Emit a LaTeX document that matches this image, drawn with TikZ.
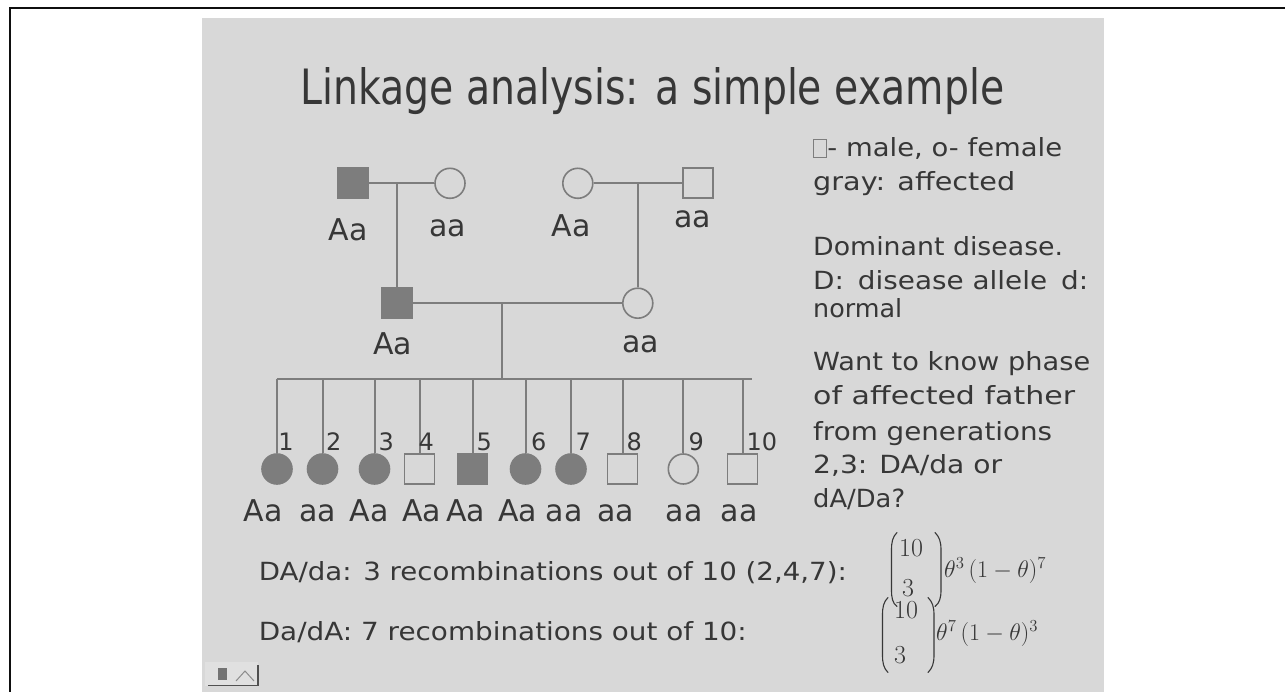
\RequirePackage{fix-cm}
\documentclass[tikz,border=0pt]{standalone}
\usepackage{amsmath}
\usepackage{fontspec}
\setmainfont{DejaVu Sans}
\usepackage{graphicx}
\definecolor{slidebg}{RGB}{216,216,216}
\definecolor{lineg}{RGB}{125,125,125}
\definecolor{affg}{RGB}{125,125,125}
\definecolor{txtc}{RGB}{55,55,55}
\definecolor{framec}{RGB}{15,15,15}
\definecolor{iconbg}{RGB}{224,224,224}
\definecolor{icondk}{RGB}{80,80,80}
\newcommand{\fitw}[2]{\resizebox{#1pt}{\height}{#2}}
\newcommand{\bodyf}{\fontsize{25pt}{30pt}\selectfont}
\newcommand{\genof}{\fontsize{30pt}{36pt}\selectfont}
\newcommand{\numf}{\fontsize{24pt}{28pt}\selectfont}
\newcommand{\mathf}{\fontsize{24pt}{28pt}\selectfont}
\newcommand{\legbox}{{\color{lineg}\setlength{\fboxrule}{1pt}\setlength{\fboxsep}{0pt}\fbox{\rule{0pt}{17pt}\hspace{11pt}}}}
\begin{document}
\begin{tikzpicture}[x=1pt,y=-1pt,
  pline/.style={draw=lineg, line width=2pt},
  male/.style={rectangle, draw=lineg, line width=1.6pt, minimum size=30pt, inner sep=0pt},
  female/.style={circle, draw=lineg, line width=1.6pt, minimum size=30pt, inner sep=0pt},
  aff/.style={fill=affg},
  txt/.style={text=txtc, inner sep=0pt, anchor=base west, font=\bodyf},
  geno/.style={text=txtc, inner sep=0pt, anchor=base, font=\genof},
  num/.style={text=txtc, inner sep=0pt, anchor=base west, font=\numf},
  paren/.style={draw=txtc, line width=1.1pt, line cap=round}]
\useasboundingbox (0,0) rectangle (1285,692);
% page frame and slide
\fill[white] (0,0) rectangle (1285,692);
\fill[slidebg] (201.7,18.3) rectangle (1104,692);
\draw[framec, line width=2pt] (10.3,700) -- (10.3,8.5) -- (1290,8.5);
% title
\node[text=txtc, inner sep=0pt, anchor=base west] (title) at (300,105)
  {\resizebox{704pt}{37pt}{\fontsize{40pt}{48pt}\selectfont Linkage analysis: a simple example}};
% generation I
\node[male,aff] (gf1) at (353.2,183.3) {};
\node[female] (gm1) at (450,183.3) {};
\node[female] (gm2) at (577.8,183.3) {};
\node[male] (gf2) at (698,183.3) {};
\node[geno] (lgf1) at (348.3,241) {Aa};
\node[geno] (lgm1) at (447.5,237) {aa};
\node[geno] (lgm2) at (571.2,237) {Aa};
\node[geno] (lgf2) at (692.5,228) {aa};
% generation II
\node[male,aff] (fa) at (397,303.2) {};
\node[female] (mo) at (637.8,303.2) {};
\node[geno] (lfa) at (392.5,355) {Aa};
\node[geno] (lmo) at (640.5,353) {aa};
\draw[pline] (gf1) -- (gm1);
\draw[pline] (gm2) -- (gf2);
\draw[pline] (fa.north |- gf1.east) -- (fa.north);
\draw[pline] (mo.north |- gf2.west) -- (mo.north);
\draw[pline] (fa) -- (mo);
% generation III
\coordinate (m3) at (501.7,303.2);
\coordinate (s3) at (501.7,379);
\coordinate (sL) at (276.7,379);
\coordinate (sR) at (751.7,379);
\draw[pline] (m3) -- (s3);
\draw[pline] (sL) -- (sR);
\node[female,aff] (c1) at (277,469) {};
\node[female,aff] (c2) at (322.5,469) {};
\node[female,aff] (c3) at (374.5,469) {};
\node[male] (c4) at (419.5,469) {};
\node[male,aff] (c5) at (472.5,469) {};
\node[female,aff] (c6) at (525.5,469) {};
\node[female,aff] (c7) at (571,469) {};
\node[male] (c8) at (622.5,469) {};
\node[female] (c9) at (683.3,469) {};
\node[male] (c10) at (742.5,469) {};
\foreach \c in {c1,c2,c3,c4,c5,c6,c7,c8,c9,c10}
  \draw[pline] (\c.north |- sL) -- (\c.north);
\node[num] (n1) at (278.2,450) {1};
\node[num] (n2) at (326,450) {2};
\node[num] (n3) at (378.3,450) {3};
\node[num] (n4) at (418.5,450) {4};
\node[num] (n5) at (476.3,450) {5};
\node[num] (n6) at (531,450) {6};
\node[num] (n7) at (575.5,450) {7};
\node[num] (n8) at (626.5,450) {8};
\node[num] (n9) at (688.3,450) {9};
\node[num] (n10) at (746.3,450) {10};
\node[geno] (g1) at (263.3,521.5) {Aa};
\node[geno] (g2) at (317.5,521.5) {aa};
\node[geno] (g3) at (369,521.5) {Aa};
\node[geno] (g4) at (421.7,521.5) {Aa};
\node[geno] (g5) at (465.8,521.5) {Aa};
\node[geno] (g6) at (517.5,521.5) {Aa};
\node[geno] (g7) at (564,521.5) {aa};
\node[geno] (g8) at (615.8,521.5) {aa};
\node[geno] (g9) at (684,521.5) {aa};
\node[geno] (g10) at (739,521.5) {aa};
% right-hand notes
\node[txt] (t1) at (813,156.7) {\fitw{249}{\legbox- male, o- female}};
\node[txt] (t2) at (813,191) {\fitw{202}{gray: affected}};
\node[txt] (t3) at (813,255.7) {\fitw{250}{Dominant disease.}};
\node[txt] (t4) at (813,290) {\fitw{275}{D:\enspace disease allele\enspace d:}};
\node[txt] (t5) at (813,318) {\fitw{89}{normal}};
\node[txt] (t6) at (813,371) {\fitw{277}{Want to know phase}};
\node[txt] (t7) at (813,405) {\fitw{262}{of affected father}};
\node[txt] (t8) at (813,440) {\fitw{239}{from generations}};
\node[txt] (t9) at (813,473.3) {\fitw{189}{2,3: DA/da or}};
\node[txt] (t10) at (813,507.5) {\fitw{92}{dA/Da?}};
% bottom lines
\node[txt] (b1) at (258.6,580.5) {\fitw{588}{DA/da: 3 recombinations out of 10 (2,4,7):}};
\node[txt] (b2) at (258.6,640.5) {\fitw{488}{Da/dA: 7 recombinations out of 10:}};
% formula 1
\draw[paren] (897,532.5) .. controls (892.5,537) and (891.5,542) .. (891.5,550) -- (891.5,590) .. controls (891.5,598) and (892.5,603) .. (897,606.5);
\draw[paren] (935,532.5) .. controls (939.5,537) and (941,542) .. (941,550) -- (941,590) .. controls (941,598) and (939.5,603) .. (935,606.5);
\node[text=txtc, inner sep=0pt, anchor=base west] (f1a) at (899,556.7) {\fontsize{26pt}{30pt}\selectfont$10$};
\node[text=txtc, inner sep=0pt, anchor=base west] (f1b) at (902,596.7) {\fontsize{26pt}{30pt}\selectfont$3$};
\node[text=txtc, inner sep=0pt, anchor=base west] (f1c) at (944,577) {\mathf$\theta^{3}\,(1-\theta)^{7}$};
% formula 2
\draw[paren] (888,597.5) .. controls (883.5,602) and (882.5,607) .. (882.5,615) -- (882.5,655) .. controls (882.5,663) and (883.5,668) .. (888,672.5);
\draw[paren] (928,597.5) .. controls (932.5,602) and (934,607) .. (934,615) -- (934,655) .. controls (934,663) and (932.5,668) .. (928,672.5);
\node[text=txtc, inner sep=0pt, anchor=base west] (f2a) at (894,618.3) {\fontsize{26pt}{30pt}\selectfont$10$};
\node[text=txtc, inner sep=0pt, anchor=base west] (f2b) at (894,663.3) {\fontsize{26pt}{30pt}\selectfont$3$};
\node[text=txtc, inner sep=0pt, anchor=base west] (f2c) at (936,640) {\mathf$\theta^{7}\,(1-\theta)^{3}$};
% navigation icon
\fill[iconbg] (205,662) rectangle (258,686);
\draw[icondk, line width=1.6pt] (208,685.5) -- (258,685.5) -- (258,665);
\fill[black!55] (218,668) rectangle (227,680);
\draw[black!45, line width=1pt] (236,681) -- (245,671) -- (254,681);
\end{tikzpicture}
\end{document}
